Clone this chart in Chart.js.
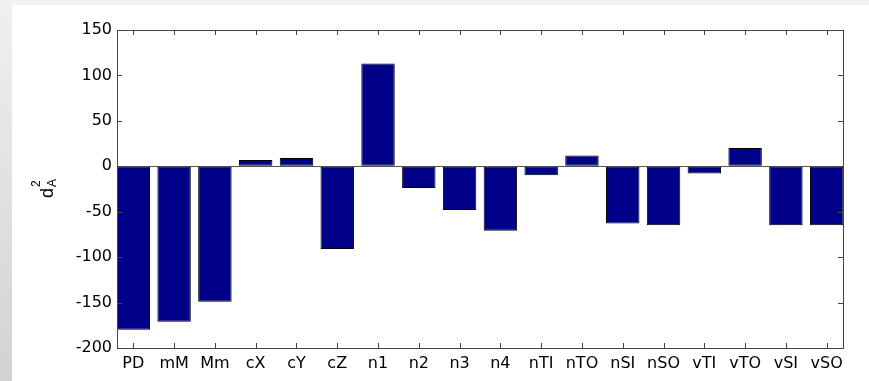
<!DOCTYPE html>
<html>
<head>
<meta charset="utf-8">
<script src="https://cdn.jsdelivr.net/npm/chart.js@4/dist/chart.umd.min.js"></script>
<style>
  html, body { margin: 0; padding: 0; }
  body {
    width: 869px; height: 381px; overflow: hidden; position: relative;
    background: #f2f2f2;
  }
  #strip {
    position: absolute; left: 0; top: 0; width: 12px; height: 381px;
    background: linear-gradient(#f0f0f0, #d2d2d2);
  }
  #wrap {
    position: absolute; left: 12px; top: 5px; width: 857px; height: 376px;
    background: #fff;
  }
</style>
</head>
<body>
<div id="strip"></div>
<div id="wrap"><canvas id="chart-d2a" width="857" height="376"></canvas></div>
<script>
'use strict';

var categories = ['PD', 'mM', 'Mm', 'cX', 'cY', 'cZ', 'n1', 'n2', 'n3', 'n4',
    'nTI', 'nTO', 'nSI', 'nSO', 'vTI', 'vTO', 'vSI', 'vSO'];
var d2a_values = [-180, -171, -149, 7, 9, -91, 113, -24, -48, -71,
    -10, 12, -63, -65, -8, 20, -65, -65];
var y_ticks = [150, 100, 50, 0, -50, -100, -150, -200];

var tick_font = { family: '"DejaVu Sans", sans-serif', size: 16 };

// matlab style box with inward ticks on all four sides, plus the axis label
var matlabBox = {
    id: 'matlabBox',
    afterDraw: function(chart) {
        var ctx = chart.ctx;
        var area = chart.chartArea;
        var xs = chart.scales.x;
        var ys = chart.scales.y;
        var len = 5;

        ctx.save();
        ctx.strokeStyle = '#444';
        ctx.lineWidth = 1;
        ctx.strokeRect(Math.round(area.left) + 0.5, Math.round(area.top) + 0.5,
            Math.round(area.right - area.left), Math.round(area.bottom - area.top));

        ctx.beginPath();
        xs.ticks.forEach(function(t) {
            var px = Math.round(xs.getPixelForValue(t.value)) + 0.5;
            ctx.moveTo(px, area.bottom);
            ctx.lineTo(px, area.bottom - len);
            ctx.moveTo(px, area.top);
            ctx.lineTo(px, area.top + len);
        });
        ys.ticks.forEach(function(t) {
            var py = Math.round(ys.getPixelForValue(t.value)) + 0.5;
            ctx.moveTo(area.left, py);
            ctx.lineTo(area.left + len, py);
            ctx.moveTo(area.right, py);
            ctx.lineTo(area.right - len, py);
        });
        ctx.stroke();

        // y label: d with superscript 2 and subscript A
        ctx.translate(41, 193);
        ctx.rotate(-Math.PI / 2);
        ctx.fillStyle = '#000';
        ctx.textBaseline = 'alphabetic';
        ctx.font = '18px "Liberation Sans", Arial, sans-serif';
        ctx.fillText('d', 0, 0);
        var w = ctx.measureText('d').width + 1;
        ctx.font = '12px "Liberation Sans", Arial, sans-serif';
        ctx.fillText('2', w, -13);
        ctx.fillText('A', w, 3);
        ctx.restore();
    }
};

var ctx_d2a = document.getElementById('chart-d2a').getContext('2d');

var chart_d2a = new Chart(ctx_d2a, {
    type: 'bar',
    data: {
        datasets: [{
            data: d2a_values.map(function(v, i) { return { x: i + 1, y: v }; }),
            backgroundColor: '#000088',
            borderColor: '#000000',
            borderWidth: 1,
            borderSkipped: false,
            barPercentage: 0.82,
            categoryPercentage: 1
        }]
    },
    options: {
        responsive: false,
        animation: false,
        layout: {
            padding: { top: 25, right: 26, left: 0, bottom: 0 }
        },
        plugins: {
            legend: { display: false },
            tooltip: { enabled: false }
        },
        scales: {
            x: {
                type: 'linear',
                offset: false,
                min: 0.6,
                max: 18.4,
                afterBuildTicks: function(axis) {
                    axis.ticks = categories.map(function(c, i) { return { value: i + 1 }; });
                },
                afterFit: function(axis) { axis.height = 33; },
                grid: { display: false, drawTicks: false },
                border: { display: false },
                ticks: {
                    autoSkip: false,
                    maxRotation: 0,
                    padding: 6,
                    color: '#000',
                    font: tick_font,
                    callback: function(value) { return categories[value - 1]; }
                }
            },
            y: {
                min: -200,
                max: 150,
                afterBuildTicks: function(axis) {
                    axis.ticks = y_ticks.map(function(v) { return { value: v }; });
                },
                afterFit: function(axis) { axis.width = 105; },
                grid: {
                    drawTicks: false,
                    color: function(c) { return c.tick && c.tick.value === 0 ? '#555' : 'rgba(0,0,0,0)'; }
                },
                border: { display: false },
                ticks: {
                    padding: 5,
                    color: '#000',
                    font: tick_font
                }
            }
        }
    },
    plugins: [matlabBox]
});
</script>
</body>
</html>
